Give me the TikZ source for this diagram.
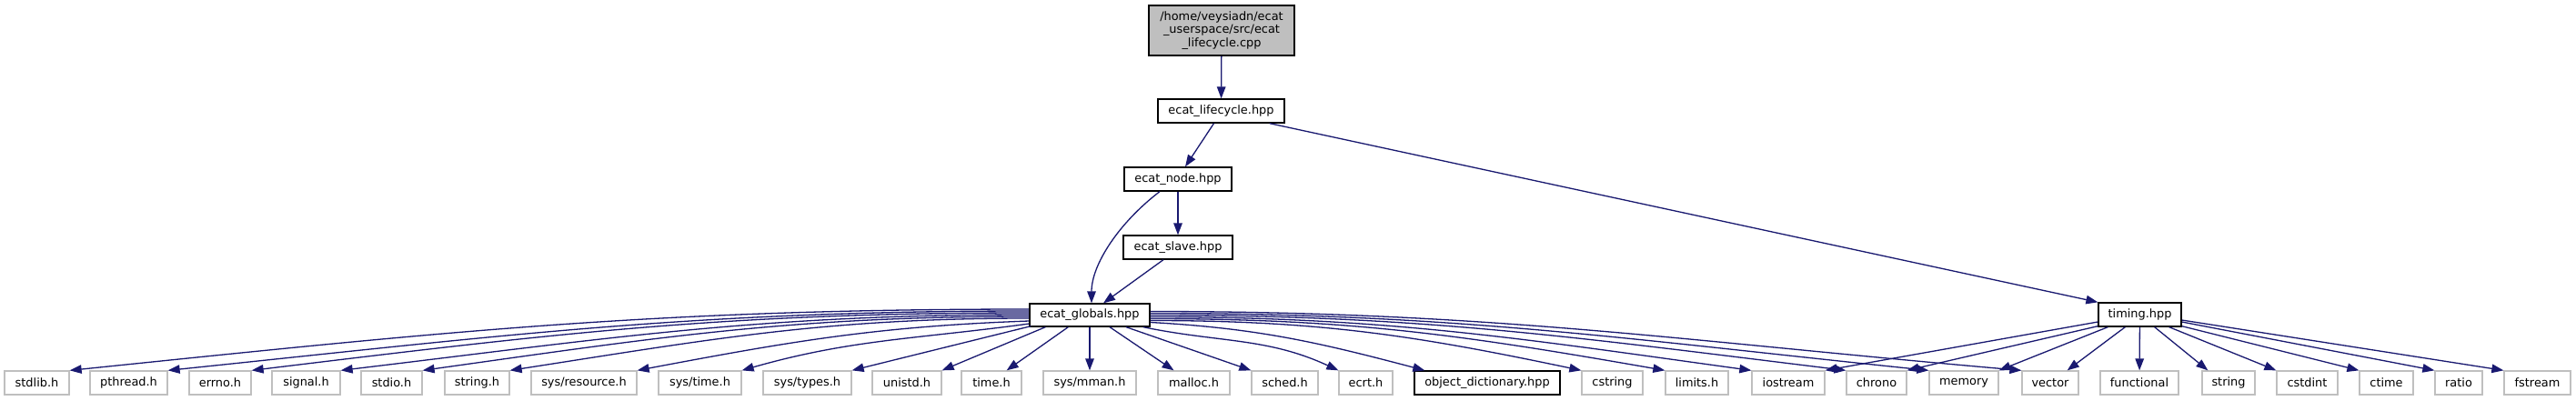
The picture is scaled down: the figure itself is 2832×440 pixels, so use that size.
\documentclass[tikz,border=0pt]{standalone}
\usepackage{fontspec}
\setmainfont{DejaVu Sans}
\usetikzlibrary{arrows.meta,calc}
\definecolor{edgeblue}{HTML}{191970}
\definecolor{boxgray}{HTML}{BFBFBF}
\begin{document}
\begin{tikzpicture}[x=1pt,y=-1pt,
  every node/.style={font=\fontsize{12.9}{14.7}\selectfont, inner sep=0pt, minimum height=26pt, text=black},
  ext/.style={draw=boxgray, line width=1.3pt, fill=white},
  int/.style={draw=black, line width=1.3pt, fill=white},
  topbox/.style={draw=black, line width=1.3pt, fill=boxgray, align=center},
  edge/.style={draw=edgeblue, line width=1.3pt, -{Triangle[length=13pt,width=9.5pt]}}
]
\fill[white] (0,0) rectangle (2832,440);
\useasboundingbox (0,0) rectangle (2832,440);

% upper nodes
\node[topbox, minimum width=160pt, minimum height=55pt] (top) at (1343,33.5) {/home/veysiadn/ecat\\\_userspace/src/ecat\\\_lifecycle.cpp};
\node[int, minimum width=139pt] (life) at (1342.5,122) {ecat\_lifecycle.hpp};
\node[int, minimum width=118pt] (enode) at (1295,197) {ecat\_node.hpp};
\node[int, minimum width=120pt] (slave) at (1295,272) {ecat\_slave.hpp};
\node[int, minimum width=132pt, minimum height=25pt] (g) at (1198,346.5) {ecat\_globals.hpp};
\node[int, minimum width=91pt] (timing) at (2352.5,346) {timing.hpp};

% bottom row
\node[ext, minimum width=71pt]  (stdlib)   at (40.5,421)   {stdlib.h};
\node[ext, minimum width=85pt]  (pthread)  at (141.5,421)  {pthread.h};
\node[ext, minimum width=68pt]  (errno)    at (242,421)    {errno.h};
\node[ext, minimum width=75pt]  (signal)   at (336.5,421)  {signal.h};
\node[ext, minimum width=67pt]  (stdio)    at (430.5,421)  {stdio.h};
\node[ext, minimum width=71pt]  (stringh)  at (524.5,421)  {string.h};
\node[ext, minimum width=116pt] (sysres)   at (642,421)    {sys/resource.h};
\node[ext, minimum width=91pt]  (systime)  at (769.5,421)  {sys/time.h};
\node[ext, minimum width=97pt]  (systypes) at (887.5,421)  {sys/types.h};
\node[ext, minimum width=76pt]  (unistd)   at (997,421)    {unistd.h};
\node[ext, minimum width=66pt]  (timeh)    at (1090,421)   {time.h};
\node[ext, minimum width=102pt] (sysmman)  at (1198,421)   {sys/mman.h};
\node[ext, minimum width=79pt]  (malloc)   at (1312.5,421) {malloc.h};
\node[ext, minimum width=73pt]  (sched)    at (1412.5,421) {sched.h};
\node[ext, minimum width=59pt]  (ecrt)     at (1501.5,421) {ecrt.h};
\node[int, minimum width=160pt] (objdict)  at (1635,421)   {object\_dictionary.hpp};
\node[ext, minimum width=67pt]  (cstring)  at (1772.5,421) {cstring};
\node[ext, minimum width=69pt]  (limits)   at (1865.5,421) {limits.h};
\node[ext, minimum width=80pt]  (iostream) at (1966,421)   {iostream};
\node[ext, minimum width=66pt]  (chrono)   at (2063,421)   {chrono};
\node[ext, minimum width=76pt]  (memory)   at (2159,421)   {memory};
\node[ext, minimum width=62pt]  (vector)   at (2254,421)   {vector};
\node[ext, minimum width=86pt]  (functional) at (2352,421) {functional};
\node[ext, minimum width=58pt]  (stdstring) at (2450,421)  {string};
\node[ext, minimum width=67pt]  (cstdint)  at (2536.5,421) {cstdint};
\node[ext, minimum width=59pt]  (ctime)    at (2623.5,421) {ctime};
\node[ext, minimum width=52pt]  (ratio)    at (2703,421)   {ratio};
\node[ext, minimum width=73pt]  (fstream)  at (2789.5,421) {fstream};

% upper edges
\draw[edge] (top) -- (life);
\draw[edge] ($(life.south)+(-8,0)$) -- ($(enode.north)+(8,0)$);
\draw[edge] ($(life.south east)+(-17,0)$) -- (timing.north west);
\draw[edge] (enode) -- (slave);
\draw[edge] ($(enode.south)+(-20,0)$) .. controls (1230,245) and (1200,291) .. ($(g.north)+(2,0)$);
\draw[edge] ($(slave.south)+(-16,0)$) -- ($(g.north)+(15,0)$);

% globals -> left
\draw[edge] ($(g.west)+(0,-6.5)$) .. controls (718,340) and (488,365) .. (stdlib.north east);
\draw[edge] ($(g.west)+(0,-4.5)$) .. controls (760,342) and (554,369) .. (pthread.north east);
\draw[edge] ($(g.west)+(0,-2.5)$) .. controls (796,344) and (609,367) .. (errno.north east);
\draw[edge] ($(g.west)+(0,-0.5)$) .. controls (834,346) and (670,372) .. (signal.north east);
\draw[edge] ($(g.west)+(0,1.5)$) .. controls (869,348) and (724,371) .. (stdio.north east);
\draw[edge] ($(g.west)+(0,3.5)$) .. controls (907,350) and (782,373) .. (stringh.north east);
\draw[edge] ($(g.west)+(0,6.5)$) .. controls (962,359) and (867,376) .. (sysres.north east);
\draw[edge] ($(g.west)+(0,9.5)$) .. controls (1007,373) and (936,373) .. (systime.north east);
\draw[edge] ($(g.south west)+(2,-1)$) -- (systypes.north east);
\draw[edge] ($(g.south west)+(18,0)$) -- (unistd.north east);
\draw[edge] ($(g.south west)+(43,0)$) -- ($(timeh.north east)+(-17,0)$);
\draw[edge] (g) -- (sysmman);
\draw[edge] ($(g.south)+(22,0)$) -- ($(malloc.north)+(-22,0)$);
\draw[edge] ($(g.south)+(40,0)$) -- (sched.north west);

% globals -> right
\draw[edge] ($(g.south east)+(-8,0)$) .. controls (1341,377) and (1393,371) .. (ecrt.north west);
\draw[edge] ($(g.east)+(0,8)$) .. controls (1384,361) and (1451,377) .. ($(objdict.north west)+(12,0)$);
\draw[edge] ($(g.east)+(0,6)$) .. controls (1451,352.5) and (1556,369) .. (cstring.north west);
\draw[edge] ($(g.east)+(0,4)$) .. controls (1487,350.5) and (1611,369) .. (limits.north west);
\draw[edge] ($(g.east)+(0,2)$) .. controls (1524,348.5) and (1669,372) .. (iostream.north west);
\draw[edge] ($(g.east)+(0,0)$) .. controls (1565,346.5) and (1731,371) .. (chrono.north west);
\draw[edge] ($(g.east)+(0,-2)$) .. controls (1600,344.5) and (1787,373) .. (memory.north west);
\draw[edge] ($(g.east)+(0,-4)$) .. controls (1640,342.5) and (1848,375) .. (vector.north west);

% timing edges
\draw[edge] ($(timing.west)+(0,8)$) -- (iostream.north east);
\draw[edge] ($(timing.south west)+(0,-1)$) -- (chrono.north east);
\draw[edge] ($(timing.south west)+(11,0)$) -- (memory.north east);
\draw[edge] ($(timing.south west)+(30,0)$) -- ($(vector.north east)+(-13,0)$);
\draw[edge] (timing) -- (functional);
\draw[edge] ($(timing.south east)+(-30,0)$) -- ($(stdstring.north west)+(7,0)$);
\draw[edge] ($(timing.south east)+(-14,0)$) -- (cstdint.north west);
\draw[edge] ($(timing.south east)+(0,-1)$) -- (ctime.north west);
\draw[edge] ($(timing.east)+(0,8)$) -- (ratio.north west);
\draw[edge] ($(timing.east)+(0,6)$) -- (fstream.north west);
\end{tikzpicture}
\end{document}
